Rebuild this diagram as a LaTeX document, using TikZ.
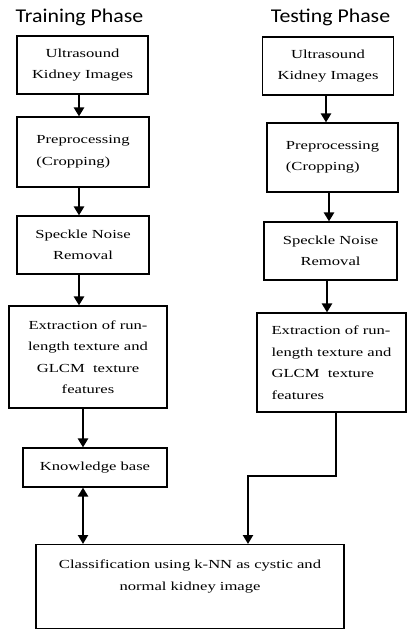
\documentclass[tikz,border=0pt]{standalone}
\usepackage{fontspec}
\newfontfamily\boxfont[FakeStretch=1.35]{Liberation Serif}
\newfontfamily\titlefont[FakeStretch=1.12]{Carlito}
\usetikzlibrary{arrows.meta,calc}
\begin{document}
\begin{tikzpicture}[x=1pt,y=-1pt,
  box/.style={draw, line width=1.1pt, fill=white, inner sep=0pt,
    font=\boxfont\fontsize{12.3}{21.5}\selectfont},
  ttl/.style={font=\titlefont\fontsize{19.5}{22}\selectfont, anchor=base, inner sep=0pt},
  arr/.style={line width=2.6pt, -{Triangle[width=10pt,length=9pt]}},
  arrd/.style={line width=2.6pt, {Triangle[width=10pt,length=9pt]}-{Triangle[width=10pt,length=9pt]}},
  thinline/.style={line width=1.3pt}]
\useasboundingbox (0,0) rectangle (407,629);
% titles
\node[ttl] (ttrain) at (79.5,22.7) {Training Phase};
\node[ttl] (ttest) at (330.5,22.7) {Testing Phase};
% training column
\node[box, minimum width=131pt, minimum height=58pt, align=center] (l1) at (82.5,65) {Ultrasound\\Kidney Images};
\node[box, minimum width=132pt, minimum height=70pt, align=left] (l2) at (83,152) {Preprocessing\\(Cropping)};
\node[box, minimum width=132pt, minimum height=58pt, align=center] (l3) at (83,245) {Speckle Noise\\Removal};
\node[box, minimum width=158pt, minimum height=102pt, align=center] (l4) at (88,357) {Extraction of run-\\length texture and\\GLCM\ \ texture\\features};
\node[box, minimum width=144pt, minimum height=39pt] (kb) at (95,467.5) {Knowledge base};
% testing column
\node[box, minimum width=131pt, minimum height=58pt, align=center] (r1) at (328,66) {Ultrasound\\Kidney Images};
\node[box, minimum width=131pt, minimum height=69pt, align=left] (r2) at (332.5,157.5) {Preprocessing\\(Cropping)};
\node[box, minimum width=133pt, minimum height=58pt, align=center] (r3) at (330.5,251) {Speckle Noise\\Removal};
\node[box, minimum width=149pt, minimum height=99pt, align=left] (r4) at (331.5,362.5) {Extraction of run-\\length texture and\\GLCM\ \ texture\\features};
% classification
\node[box, anchor=north, text width=308pt, align=center, text height=24pt, text depth=60pt] (cls) at (190,544) {Classification using k-NN as cystic and\\normal kidney image};
% columns for connectors
\coordinate (cl1) at (79,0);
\coordinate (cl2) at (83,0);
\coordinate (cr1) at (326,0);
\coordinate (cr2) at (329,0);
\coordinate (cr3) at (327,0);
\coordinate (cr4) at (336,0);
\coordinate (elbowa) at (336,476);
\coordinate (elbowb) at (248,476);
% connectors
\draw[arr] (l1.south -| cl1) -- (l2.north -| cl1);
\draw[arr] (l2.south -| cl1) -- (l3.north -| cl1);
\draw[arr] (l3.south -| cl1) -- (l4.north -| cl1);
\draw[arr] (l4.south -| cl2) -- (kb.north -| cl2);
\draw[arrd] (kb.south -| cl2) -- (cls.north -| cl2);
\draw[arr] (r1.south -| cr1) -- (r2.north -| cr1);
\draw[arr] (r2.south -| cr2) -- (r3.north -| cr2);
\draw[arr] (r3.south -| cr3) -- (r4.north -| cr3);
\draw[thinline] (r4.south -| cr4) -- (elbowa) -- ($(elbowb)+(-1.3,0)$);
\draw[arr] ($(elbowb)+(0,-0.65)$) -- (cls.north -| elbowb);
\end{tikzpicture}
\end{document}
